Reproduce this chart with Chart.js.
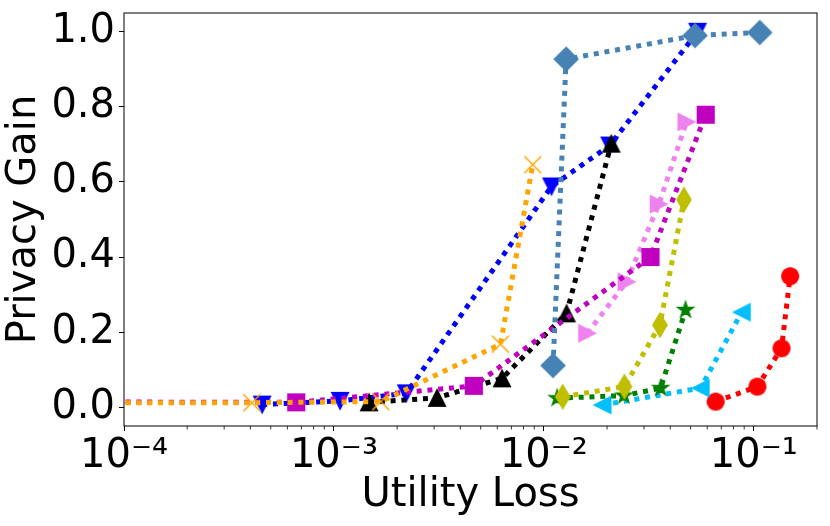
<!DOCTYPE html>
<html><head><meta charset="utf-8">
<script src="https://cdn.jsdelivr.net/npm/chart.js@4"></script>
<style>html,body{margin:0;padding:0;background:#fff}#wrap{width:830px;height:526px}</style>
</head><body><div id="wrap"><canvas id="c" width="830" height="526"></canvas></div>
<script>
// ---- tick labels ----
const xTickValues = [1e-4, 1e-3, 1e-2, 1e-1];
const xTickLabels = ['10\u207B\u2074', '10\u207B\u00B3', '10\u207B\u00B2', '10\u207B\u00B9'];
const yTickValues = [0, 0.2, 0.4, 0.6, 0.8, 1.0];
const yTickLabels = ['0.0', '0.2', '0.4', '0.6', '0.8', '1.0'];

// ---- series values (Utility Loss x, Privacy Gain y) ----
const redX = [0.0658, 0.104, 0.1355, 0.149];
const redY = [0.015, 0.055, 0.157, 0.349];
const skyX = [0.019, 0.0558, 0.0875];
const skyY = [0.006, 0.051, 0.253];
const greenX = [0.01156, 0.02405, 0.036, 0.0473];
const greenY = [0.024, 0.031, 0.051, 0.259];
const oliveX = [0.0123, 0.0242, 0.0357, 0.0465];
const oliveY = [0.028, 0.055, 0.219, 0.553];
const violetX = [0.0161, 0.02477, 0.0353, 0.0478];
const violetY = [0.197, 0.334, 0.541, 0.760];
const blueX = [0.000455, 0.00107, 0.00221, 0.01087, 0.02056, 0.054];
const blueY = [0.007, 0.017, 0.037, 0.588, 0.697, 1.0];
const blackX = [0.00147, 0.0031, 0.00632, 0.01283, 0.02094];
const blackY = [0.013, 0.025, 0.077, 0.25, 0.702];
const magentaX = [0.00005, 0.000661, 0.00464, 0.0322, 0.059];
const magentaY = [0.014, 0.013, 0.057, 0.40, 0.779];
const orangeX = [0.00005, 0.000406, 0.00167, 0.00621, 0.00885];
const orangeY = [0.012, 0.012, 0.015, 0.168, 0.646];
const steelX = [0.01106, 0.01276, 0.0525, 0.1067];
const steelY = [0.111, 0.927, 0.990, 0.998];

const FONT = 'DejaVu Sans';
const MS = 17;

function makeMarker(shape, color, m) {
  const S = 44;
  const c = document.createElement('canvas');
  c.width = S; c.height = S;
  const g = c.getContext('2d');
  g.translate(S / 2, S / 2);
  const h = m / 2;
  g.fillStyle = color; g.strokeStyle = color; g.lineWidth = 1.2; g.lineJoin = 'miter';
  g.beginPath();
  if (shape === 'o') { g.arc(0, 0, h, 0, Math.PI * 2); }
  else if (shape === 's') { g.rect(-h, -h, m, m); }
  else if (shape === 'D' || shape === 'd') {
    const d = h * Math.SQRT2; const w = shape === 'd' ? 0.6 * d : d;
    g.moveTo(0, -d); g.lineTo(w, 0); g.lineTo(0, d); g.lineTo(-w, 0); g.closePath();
  }
  else if (shape === '^') { g.moveTo(0, -h); g.lineTo(h, h); g.lineTo(-h, h); g.closePath(); }
  else if (shape === 'v') { g.moveTo(0, h); g.lineTo(h, -h); g.lineTo(-h, -h); g.closePath(); }
  else if (shape === '<') { g.moveTo(-h, 0); g.lineTo(h, -h); g.lineTo(h, h); g.closePath(); }
  else if (shape === '>') { g.moveTo(h, 0); g.lineTo(-h, -h); g.lineTo(-h, h); g.closePath(); }
  else if (shape === '*') {
    for (let i = 0; i < 10; i++) {
      const r = (i % 2) ? h * 0.381966 : h;
      const a = -Math.PI / 2 + i * Math.PI / 5;
      if (i === 0) g.moveTo(r * Math.cos(a), r * Math.sin(a)); else g.lineTo(r * Math.cos(a), r * Math.sin(a));
    }
    g.closePath();
  }
  else if (shape === 'x') {
    g.moveTo(-h, -h); g.lineTo(h, h); g.moveTo(-h, h); g.lineTo(h, -h);
    g.lineWidth = 1.5; g.stroke(); return c;
  }
  g.fill(); g.stroke();
  return c;
}

// plotting order (first = bottom)
const series = [
  { xs: redX, ys: redY, color: '#FF0000', marker: 'o' },
  { xs: skyX, ys: skyY, color: '#00BFFF', marker: '<' },
  { xs: greenX, ys: greenY, color: '#008000', marker: '*' },
  { xs: oliveX, ys: oliveY, color: '#BFBF00', marker: 'd' },
  { xs: violetX, ys: violetY, color: '#EE82EE', marker: '>' },
  { xs: blueX, ys: blueY, color: '#0000FF', marker: 'v' },
  { xs: blackX, ys: blackY, color: '#000000', marker: '^' },
  { xs: magentaX, ys: magentaY, color: '#BF00BF', marker: 's' },
  { xs: orangeX, ys: orangeY, color: '#FFA500', marker: 'x' },
  { xs: steelX, ys: steelY, color: '#4682B4', marker: 'D' }
];

const datasets = series.map((s, i) => ({
  data: s.xs.map((x, j) => ({ x: x, y: s.ys[j] })),
  borderColor: s.color,
  backgroundColor: s.color,
  borderWidth: 5,
  borderDash: [5, 5.8],
  borderCapStyle: 'butt',
  tension: 0,
  fill: false,
  pointStyle: makeMarker(s.marker, s.color, MS),
  pointRadius: 10,
  pointBorderWidth: 0,
  clip: 0,
  order: series.length - i
}));

const minorTicks = {
  id: 'minorTicks',
  afterDraw(chart) {
    const sx = chart.scales.x; const ctx = chart.ctx; const a = chart.chartArea;
    ctx.save(); ctx.strokeStyle = '#000'; ctx.lineWidth = 0.8;
    for (let e = -4; e <= -1; e++) {
      for (let k = 2; k <= 9; k++) {
        const v = k * Math.pow(10, e);
        if (v > sx.max) continue;
        const px = sx.getPixelForValue(v);
        ctx.beginPath(); ctx.moveTo(px, a.bottom); ctx.lineTo(px, a.bottom + 3.5); ctx.stroke();
      }
    }
    ctx.restore();
  }
};
const frame = {
  id: 'frame',
  afterDatasetsDraw(chart) {
    const ctx = chart.ctx; const a = chart.chartArea;
    ctx.save(); ctx.strokeStyle = '#000'; ctx.lineWidth = 1;
    ctx.strokeRect(a.left, a.top, a.right - a.left, a.bottom - a.top);
    ctx.restore();
  }
};

function zeroPad(s) { s.paddingTop = 0; s.paddingBottom = 0; s.paddingLeft = 0; s.paddingRight = 0; }

new Chart(document.getElementById('c'), {
  type: 'line',
  data: { datasets: datasets },
  options: {
    responsive: false,
    animation: false,
    devicePixelRatio: 1,
    events: [],
    layout: { padding: { top: 13, right: 13, left: 0, bottom: 0 } },
    plugins: { legend: { display: false }, tooltip: { enabled: false } },
    scales: {
      x: {
        type: 'logarithmic', position: 'bottom', min: 1e-4, max: 0.2,
        afterBuildTicks: s => { s.ticks = xTickValues.map(v => ({ value: v })); },
        afterFit: s => { s.height = 100; zeroPad(s); },
        ticks: {
          autoSkip: false, maxRotation: 0, minRotation: 0, padding: 2, color: '#000',
          font: { family: FONT, size: 40 },
          callback: v => { const i = xTickValues.indexOf(v); return i >= 0 ? xTickLabels[i] : ''; }
        },
        grid: { display: true, drawOnChartArea: false, drawTicks: true, tickLength: 5, tickColor: '#000', tickWidth: 1 },
        border: { display: false },
        title: { display: true, text: 'Utility Loss', color: '#000', font: { family: FONT, size: 40 }, padding: { top: 0, bottom: 6 } }
      },
      y: {
        type: 'linear', min: -0.05, max: 1.05,
        afterBuildTicks: s => { s.ticks = yTickValues.map(v => ({ value: v })); },
        afterFit: s => { s.width = 124; zeroPad(s); },
        ticks: {
          padding: 4, color: '#000', font: { family: FONT, size: 40 },
          callback: v => { const i = yTickValues.indexOf(v); return i >= 0 ? yTickLabels[i] : ''; }
        },
        grid: { display: true, drawOnChartArea: false, drawTicks: true, tickLength: 5, tickColor: '#000', tickWidth: 1 },
        border: { display: false },
        title: { display: true, text: 'Privacy Gain', color: '#000', font: { family: FONT, size: 40 }, padding: { top: 1, bottom: 0 } }
      }
    }
  },
  plugins: [minorTicks, frame]
});
</script></body></html>
